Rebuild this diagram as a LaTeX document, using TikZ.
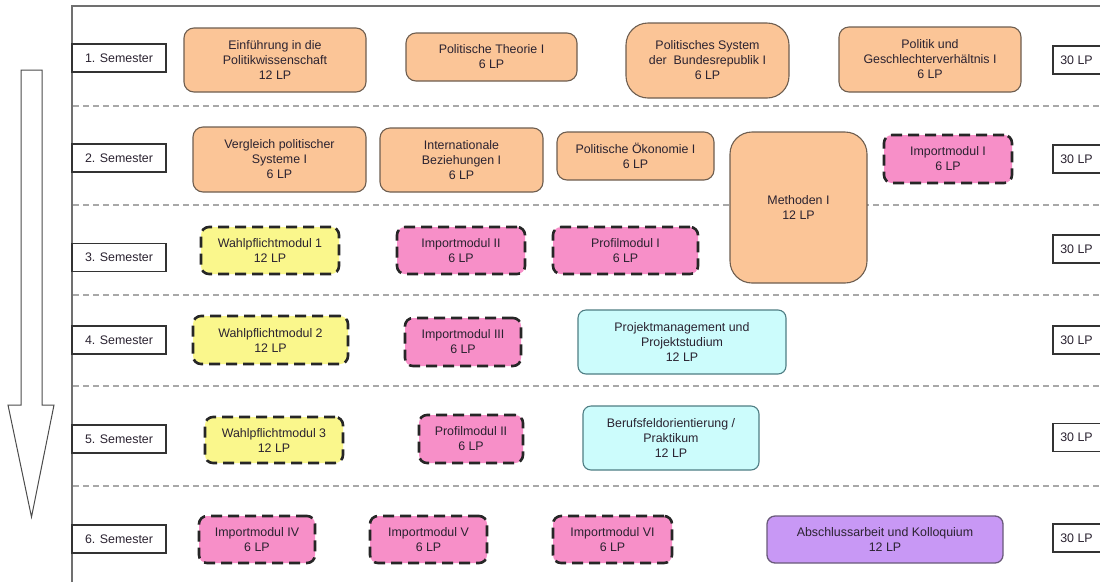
\documentclass[tikz,border=0pt]{standalone}
\usepackage{fontspec}
\setmainfont{Liberation Sans}
\definecolor{orangefill}{HTML}{FBC597}
\definecolor{orangeline}{HTML}{6E5E50}
\definecolor{pinkfill}{HTML}{F78FC8}
\definecolor{yellowfill}{HTML}{FAF78C}
\definecolor{cyanfill}{HTML}{CCFCFC}
\definecolor{cyanline}{HTML}{4F7E84}
\definecolor{purplefill}{HTML}{C898F5}
\definecolor{purpleline}{HTML}{6A5A7A}
\definecolor{framegray}{HTML}{707070}
\definecolor{sepgray}{HTML}{A8A8A8}
\definecolor{txt}{HTML}{2A2230}
\tikzset{
  mod/.style={align=center, inner sep=0pt, text=txt,
    font=\fontsize{12.4}{15}\selectfont},
  orangemod/.style={mod, draw=orangeline, fill=orangefill, line width=1.1pt, rounded corners=10pt},
  bigorange/.style={orangemod, rounded corners=22pt},
  dashmod/.style={mod, draw=black!85, line width=2.6pt, dash pattern=on 11pt off 6pt, rounded corners=8pt},
  pinkmod/.style={dashmod, fill=pinkfill},
  yellowmod/.style={dashmod, fill=yellowfill},
  cyanmod/.style={mod, draw=cyanline, fill=cyanfill, line width=1.1pt, rounded corners=8pt},
  purplemod/.style={mod, draw=purpleline, fill=purplefill, line width=1.3pt, rounded corners=8pt},
  semlabel/.style={mod, draw=black!80, fill=white, line width=1.2pt, minimum width=94pt, minimum height=28pt},
  lplabel/.style={mod, draw=black!80, fill=white, line width=1.2pt, minimum width=57pt, minimum height=28pt},
  separator/.style={draw=sepgray, line width=1.4pt, dash pattern=on 6pt off 4pt},
}
\begin{document}
\begin{tikzpicture}[x=1pt,y=-1pt]
\useasboundingbox (0,0) rectangle (1100,582);
\fill[white] (0,0) rectangle (1100,582);
% frame
\draw[framegray, line width=1.6pt] (72,582) -- (72,6) -- (1110,6);
% separators
\foreach \yy in {106,205,295,386,486}
  \draw[separator] (73,\yy) -- (1100,\yy);
% arrow
\draw[black!70, line width=1pt, fill=white] (21,70) -- (42,70) -- (42,405) -- (54,405) -- (31.5,517) -- (8,405) -- (21,405) -- cycle;
% semester labels
\node[semlabel] (s1) at (119,58) {1. Semester};
\node[semlabel] (s2) at (119,158) {2. Semester};
\node[semlabel] (s3) at (119,257.5) {3. Semester};
\node[semlabel] (s4) at (119,340) {4. Semester};
\node[semlabel] (s5) at (119,439) {5. Semester};
\node[semlabel] (s6) at (119,539) {6. Semester};
% LP labels
\node[lplabel] (l1) at (1081.5,60) {30 LP\hspace{10pt}};
\node[lplabel] (l2) at (1081.5,159) {30 LP\hspace{10pt}};
\node[lplabel] (l3) at (1081.5,249) {30 LP\hspace{10pt}};
\node[lplabel] (l4) at (1081.5,340) {30 LP\hspace{10pt}};
\node[lplabel] (l5) at (1081.5,437.5) {30 LP\hspace{10pt}};
\node[lplabel] (l6) at (1081.5,538) {30 LP\hspace{10pt}};
% row 1
\node[orangemod, minimum width=182pt, minimum height=64pt] (e1) at (275,60) {Einführung in die\\Politikwissenschaft\\12 LP};
\node[orangemod, minimum width=171pt, minimum height=48pt] (e2) at (491.5,57) {Politische Theorie I\\6 LP};
\node[bigorange, minimum width=163pt, minimum height=75pt] (e3) at (707.5,60.5) {Politisches System\\der\ \ Bundesrepublik I\\6 LP};
\node[orangemod, minimum width=182pt, minimum height=65pt] (e4) at (930,59.5) {Politik und\\Geschlechterverhältnis I\\6 LP};
% row 2
\node[orangemod, minimum width=173pt, minimum height=65pt] (z1) at (279.5,159.5) {Vergleich politischer\\Systeme I\\6 LP};
\node[orangemod, minimum width=163pt, minimum height=64pt] (z2) at (461.5,160) {Internationale\\Beziehungen I\\6 LP};
\node[orangemod, minimum width=157pt, minimum height=48pt] (z3) at (635.5,156) {Politische Ökonomie I\\6 LP};
\node[bigorange, minimum width=137pt, minimum height=151pt] (meth) at (798.5,207.5) {Methoden I\\12 LP};
\node[pinkmod, minimum width=128pt, minimum height=48pt] (imp1) at (948,159) {Importmodul I\\6 LP};
% row 3
\node[yellowmod, minimum width=138pt, minimum height=47pt] (w1) at (270,250.5) {Wahlpflichtmodul 1\\12 LP};
\node[pinkmod, minimum width=128pt, minimum height=47pt] (imp2) at (461,250.5) {Importmodul II\\6 LP};
\node[pinkmod, minimum width=145pt, minimum height=47pt] (prof1) at (625.5,250.5) {Profilmodul I\\6 LP};
% row 4
\node[yellowmod, minimum width=155pt, minimum height=48pt] (w2) at (270.5,340) {Wahlpflichtmodul 2\\12 LP};
\node[pinkmod, minimum width=116pt, minimum height=48pt] (imp3) at (463,342) {Importmodul III\\6 LP};
\node[cyanmod, minimum width=208pt, minimum height=64pt] (proj) at (682,342) {Projektmanagement und\\Projektstudium\\12 LP};
% row 5
\node[yellowmod, minimum width=138pt, minimum height=46pt] (w3) at (274,440) {Wahlpflichtmodul 3\\12 LP};
\node[pinkmod, minimum width=104pt, minimum height=48pt] (prof2) at (471,439) {Profilmodul II\\6 LP};
\node[cyanmod, minimum width=176pt, minimum height=64pt] (beruf) at (671,438) {Berufsfeldorientierung /\\Praktikum\\12 LP};
% row 6
\node[pinkmod, minimum width=116pt, minimum height=47pt] (imp4) at (257,539.5) {Importmodul IV\\6 LP};
\node[pinkmod, minimum width=117pt, minimum height=47pt] (imp5) at (428.5,539.5) {Importmodul V\\6 LP};
\node[pinkmod, minimum width=119pt, minimum height=47pt] (imp6) at (612.5,539.5) {Importmodul VI\\6 LP};
\node[purplemod, minimum width=236pt, minimum height=47pt] (absch) at (885,539.5) {Abschlussarbeit und Kolloquium\\12 LP};
\end{tikzpicture}
\end{document}
